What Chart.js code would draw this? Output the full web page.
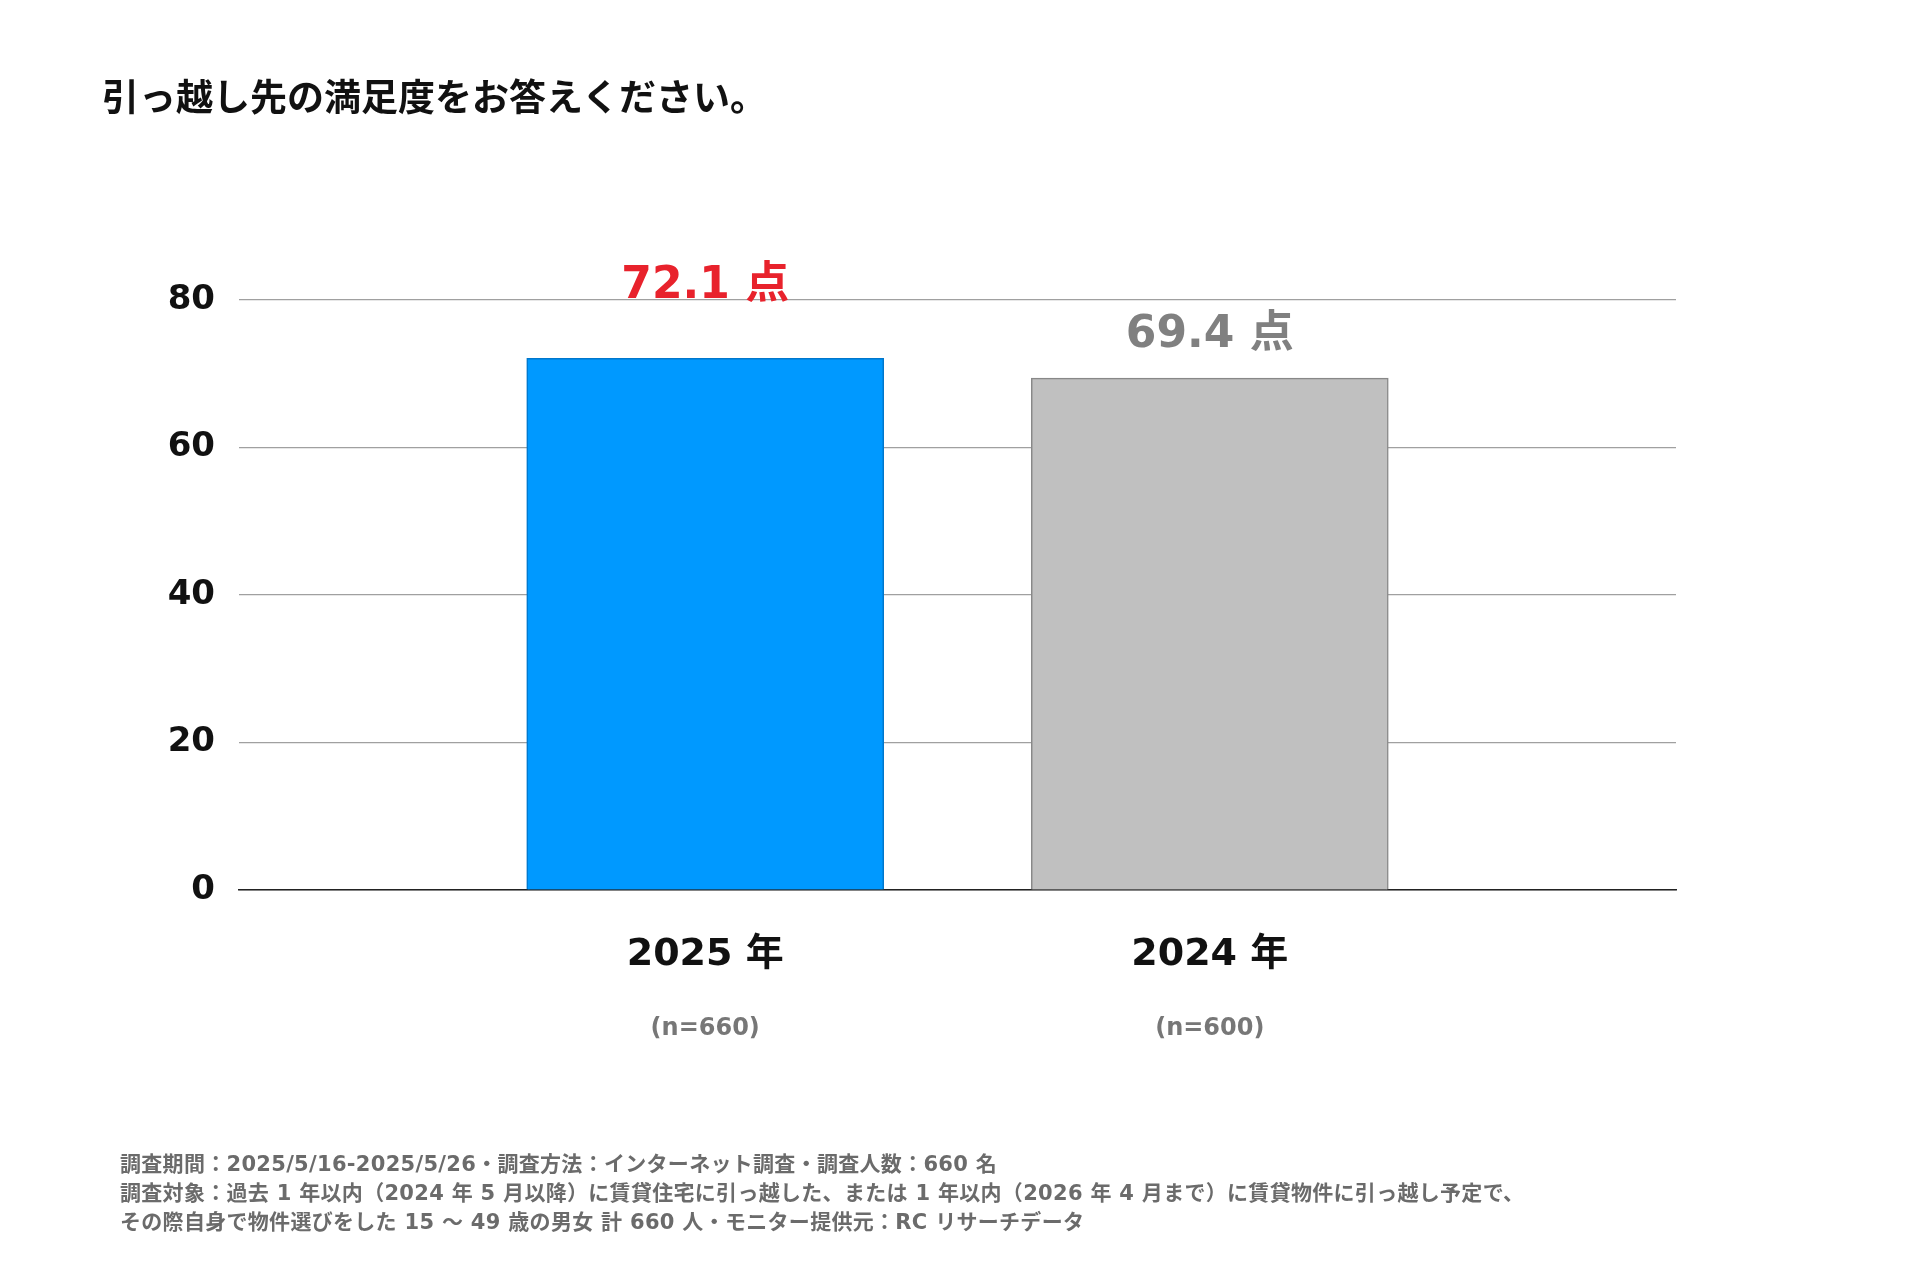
<!DOCTYPE html><html><head><meta charset="utf-8">
<script src="https://cdn.jsdelivr.net/npm/chart.js@4"></script>
<style>
body{margin:0;background:#fff;font-family:"DejaVu Sans","Noto Sans CJK JP",sans-serif;}
#wrap{position:relative;width:1920px;height:1280px;}
#title{position:absolute;left:102px;top:68px;font-size:37px;font-weight:700;color:#111;font-family:"Noto Sans CJK JP";}
#foot{position:absolute;left:120px;top:1150px;font-size:21px;font-weight:700;color:#6b6b6b;line-height:29px;letter-spacing:0.3px;}
canvas{position:absolute;left:0;top:0;}
</style></head><body><div id="wrap">
<canvas id="c" width="1920" height="1280"></canvas>
<div id="title">引っ越し先の満足度をお答えください。</div>
<div id="foot">調査期間：2025/5/16-2025/5/26・調査方法：インターネット調査・調査人数：660 名<br>調査対象：過去 1 年以内（2024 年 5 月以降）に賃貸住宅に引っ越した、または 1 年以内（2026 年 4 月まで）に賃貸物件に引っ越し予定で、<br>その際自身で物件選びをした 15 ～ 49 歳の男女 計 660 人・モニター提供元：RC リサーチデータ</div>
</div>
<script>
const categories=['2025 年','2024 年'];
const sampleLabels=['(n=660)','(n=600)'];
const values=[72.1,69.4];
const valueLabels=['72.1 点','69.4 点'];
const yTicks=[0,20,40,60,80];
const colors=['#0099ff','#c0c0c0'];
const borders=['#0077cc','#888888'];
const labelColors=['#e8222c','#808080'];
const labelOffsets=[72,43];
const F='"DejaVu Sans","Noto Sans CJK JP"';
const labelsPlugin={id:'lbl',afterDatasetsDraw(ch){
 const ctx=ch.ctx,xs=ch.scales.x,ys=ch.scales.y;
 ctx.save();ctx.textAlign='center';ctx.textBaseline='middle';
 values.forEach((v,i)=>{
  const x=xs.getPixelForValue(i+1);
  ctx.font='700 44px '+F;ctx.fillStyle=labelColors[i];
  ctx.fillText(valueLabels[i],x,ys.getPixelForValue(v)-labelOffsets[i]);
  ctx.font='700 24px '+F;ctx.fillStyle='#777';
  ctx.fillText(sampleLabels[i],x,1029);
 });
 ctx.restore();}};
new Chart(document.getElementById('c'),{type:'bar',
 data:{datasets:[{data:values.map((v,i)=>({x:i+1,y:v})),backgroundColor:colors,borderColor:borders,borderWidth:1.5,barThickness:357}]},
 options:{responsive:false,animation:false,
  layout:{padding:{top:300,right:244,left:0,bottom:0}},
  plugins:{legend:{display:false},tooltip:{enabled:false}},
  scales:{
   x:{type:'linear',offset:false,min:0.076,max:2.924,afterFit(s){s.height=390;},
    afterBuildTicks(s){s.ticks=[{value:1},{value:2}];},
    grid:{display:false,drawTicks:false},border:{color:'#222',width:1.5},
    ticks:{padding:42,color:'#111',font:{size:38,weight:'700',family:F},callback:v=>categories[v-1]}},
   y:{min:0,max:80,afterFit(s){s.width=239;},
    afterBuildTicks(s){s.ticks=yTicks.map(v=>({value:v}));},
    grid:{color:'#a0a0a0',lineWidth:1.2,drawTicks:false},border:{display:false},
    ticks:{padding:24,color:'#111',font:{size:34,weight:'700',family:F}}}
  }},plugins:[labelsPlugin]});
</script></body></html>
